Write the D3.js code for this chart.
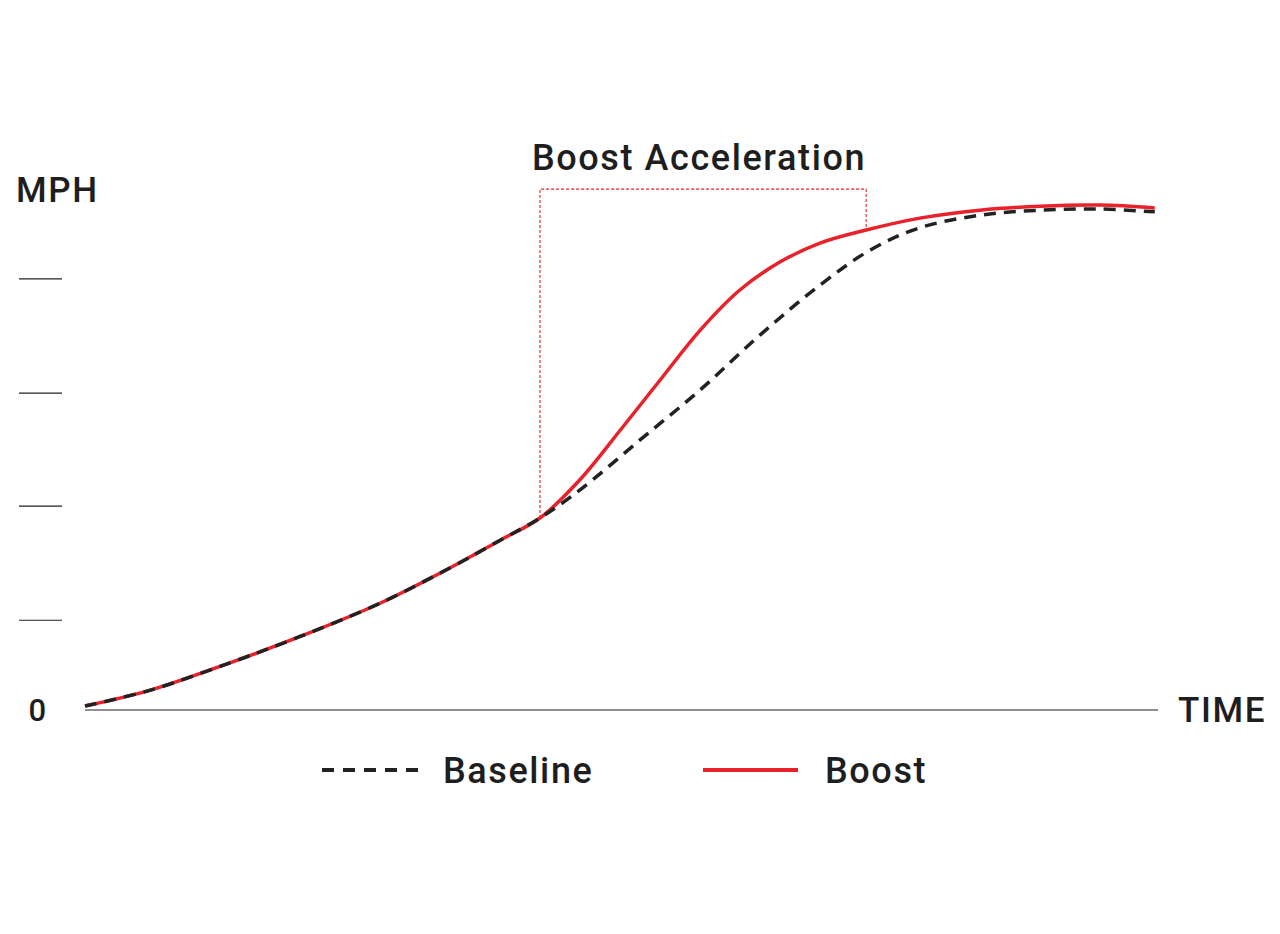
<!DOCTYPE html>
<html><head><meta charset="utf-8">
<script src="https://cdn.jsdelivr.net/npm/d3@7"></script>
<style>body{margin:0;background:#fff}svg{display:block}text{font-family:Roboto,"DejaVu Sans",sans-serif;font-weight:500;fill:#1e1e1e;letter-spacing:1.6px}</style>
</head><body><svg id="c" width="1280" height="934"></svg>
<script>
const yTicks = [15.8, 35.9, 55.8, 75.9];
const baseT = [0,6.1,13.5,20.0,27.5,34.0,38.7,42.4,46.1,51.7,57.3,62.9,68.5,73.2,77.8,83.4,89.0,94.6,99.7];
const baseV = [0.7,3.5,8.3,12.9,18.8,25.0,29.9,33.8,38.7,47.5,56.3,66.0,74.8,81.0,84.9,87.1,88.0,88.2,87.7];
const boostT = [0,6.1,13.5,20.0,27.5,34.0,38.7,42.4,46.1,49.9,53.6,57.3,61.0,64.8,68.5,72.8,77.8,83.4,89.0,94.6,99.7];
const boostV = [0.7,3.5,8.3,12.9,18.8,25.0,29.9,33.8,40.5,49.3,58.1,66.8,73.9,78.9,82.2,84.5,86.6,88.0,88.7,88.9,88.4];
const bracketT = [42.4, 72.8];
const bracketV = [33.8, 84.5];
const bracketTop = 91.7;

const svg = d3.select("#c");
const x = d3.scaleLinear().domain([0,100]).range([85,1158]);
const y = d3.scaleLinear().domain([0,100]).range([710,142]);

svg.append("line").attr("x1",x(0)).attr("x2",x(100)).attr("y1",y(0)).attr("y2",y(0)).attr("stroke","#222").attr("stroke-width",1.2);
svg.selectAll(".yt").data(yTicks).join("line").attr("x1",19).attr("x2",62).attr("y1",d=>y(d)).attr("y2",d=>y(d)).attr("stroke","#222").attr("stroke-width",1.2);
svg.append("text").attr("x",38).attr("y",y(0)+11).attr("text-anchor","middle").attr("font-size",31).text("0");
svg.append("text").attr("x",16).attr("y",202).attr("font-size",35).text("MPH");
svg.append("text").attr("x",1178).attr("y",722).attr("font-size",35).text("TIME");

const bp = d3.path();
bp.moveTo(x(bracketT[0]), y(bracketV[0])); bp.lineTo(x(bracketT[0]), y(bracketTop));
bp.lineTo(x(bracketT[1]), y(bracketTop)); bp.lineTo(x(bracketT[1]), y(bracketV[1]));
svg.append("path").attr("d",bp.toString()).attr("fill","none").attr("stroke","#e8212b").attr("stroke-width",1.1).attr("stroke-dasharray","3,2");
svg.append("text").attr("x",699).attr("y",170).attr("text-anchor","middle").attr("font-size",36).text("Boost Acceleration");

const line = d3.line().x(d=>x(d[0])).y(d=>y(d[1])).curve(d3.curveCatmullRom.alpha(0.5));
svg.append("path").attr("d",line(boostT.map((t,i)=>[t,boostV[i]]))).attr("fill","none").attr("stroke","#e8212b").attr("stroke-width",3.5);
svg.append("path").attr("d",line(baseT.map((t,i)=>[t,baseV[i]]))).attr("fill","none").attr("stroke","#222").attr("stroke-width",3.5).attr("stroke-dasharray","12,8");

svg.append("line").attr("x1",322).attr("x2",420).attr("y1",770).attr("y2",770).attr("stroke","#222").attr("stroke-width",4).attr("stroke-dasharray","12,9");
svg.append("text").attr("x",443).attr("y",783).attr("font-size",36).text("Baseline");
svg.append("line").attr("x1",703).attr("x2",798).attr("y1",770).attr("y2",770).attr("stroke","#e8212b").attr("stroke-width",4);
svg.append("text").attr("x",825).attr("y",783).attr("font-size",36).text("Boost");
</script></body></html>
